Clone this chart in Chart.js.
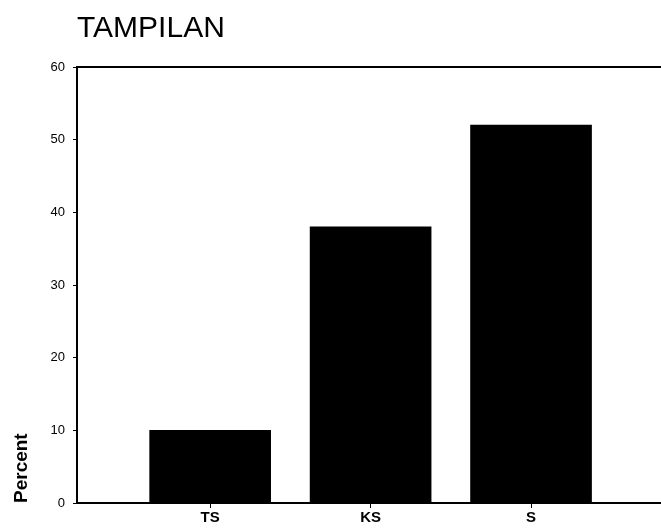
<!DOCTYPE html>
<html>
<head>
<meta charset="utf-8">
<script src="https://cdn.jsdelivr.net/npm/chart.js@4/dist/chart.umd.min.js"></script>
<style>
  html, body { margin: 0; padding: 0; background: #fff; }
  #grafico { display: block; }
</style>
</head>
<body>
<canvas id="grafico" width="661" height="529"></canvas>
<script>
// datos del grafico
const categorias = ['TS', 'KS', 'S'];
const persen = [10, 38, 52];
const ticksY = [0, 10, 20, 30, 40, 50, 60];

const hitam = '#000';
const huruf = 'Liberation Sans, Arial, sans-serif';

// posiciones de las barras sobre un eje lineal (1, 2, 3)
const puntos = categorias.map((c, i) => ({ x: i + 1, y: persen[i] }));

const ctx = document.getElementById('grafico').getContext('2d');

new Chart(ctx, {
    type: 'bar',
    data: {
        datasets: [{
            label: 'Percent',
            data: puntos,
            backgroundColor: hitam,
            borderWidth: 0,
            barThickness: 121
        }]
    },
    options: {
        responsive: false,
        animation: false,
        layout: { padding: 0 },
        plugins: {
            legend: { display: false },
            tooltip: { enabled: false },
            title: {
                display: true,
                text: 'TAMPILAN',
                align: 'start',
                fullSize: false,
                color: hitam,
                font: { family: huruf, size: 30, weight: 'normal' },
                padding: { top: 11, bottom: 20 }
            }
        },
        scales: {
            x: {
                type: 'linear',
                min: 0.17,
                max: 3.81,
                offset: false,
                afterBuildTicks: (s) => { s.ticks = categorias.map((c, i) => ({ value: i + 1 })); },
                afterFit: (s) => { s.height = 26; },
                ticks: {
                    color: hitam,
                    padding: 1,
                    maxRotation: 0,
                    font: { family: huruf, size: 15, weight: 'bold' },
                    callback: (v) => categorias[v - 1] || ''
                },
                grid: { offset: false, drawOnChartArea: false, tickLength: 5, color: hitam, tickWidth: 1 },
                border: { color: hitam, width: 2 }
            },
            xTop: {
                type: 'linear',
                position: 'top',
                offset: false,
                ticks: { display: false },
                grid: { offset: false, drawOnChartArea: false, drawTicks: false },
                border: { color: hitam, width: 2 },
                afterFit: (s) => { s.height = 0; }
            },
            y: {
                min: 0,
                max: 60,
                afterBuildTicks: (s) => { s.ticks = ticksY.map(v => ({ value: v })); },
                afterFit: (s) => { s.width = 77; },
                ticks: {
                    color: hitam,
                    padding: 8,
                    font: { family: huruf, size: 13 }
                },
                grid: { drawOnChartArea: false, tickLength: 4, color: hitam, tickWidth: 1 },
                border: { color: hitam, width: 2 },
                title: {
                    display: true,
                    text: 'Percent',
                    align: 'start',
                    color: hitam,
                    font: { family: huruf, size: 19, weight: 'bold' },
                    padding: { top: 10, bottom: 0 }
                }
            }
        }
    }
});
</script>
</body>
</html>
